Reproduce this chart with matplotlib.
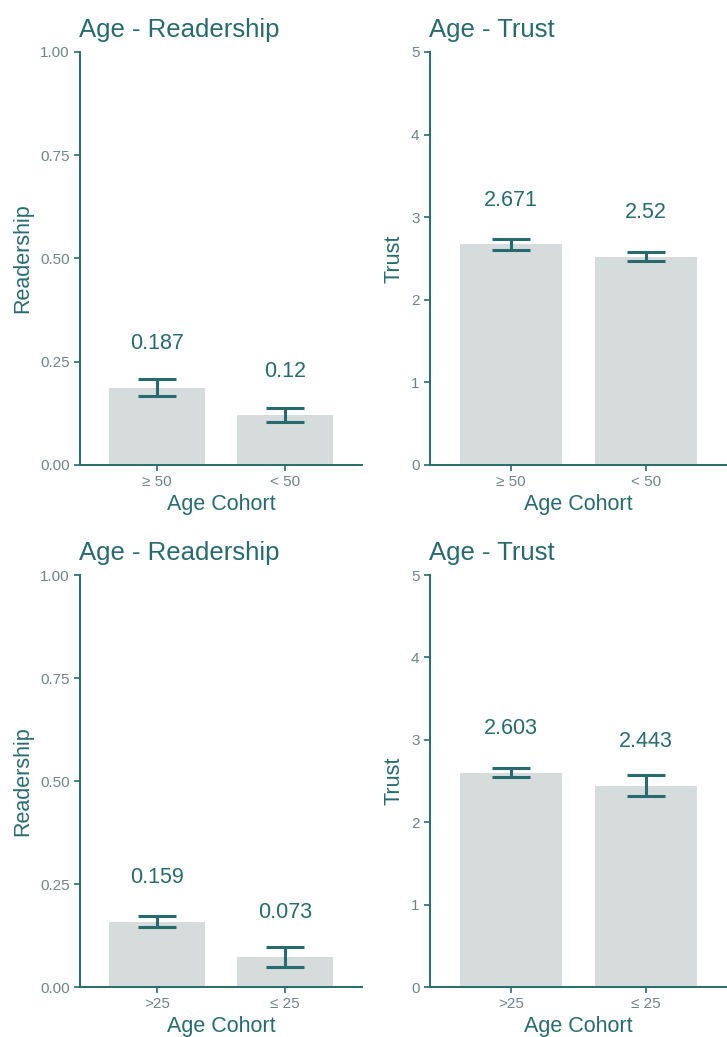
import matplotlib.pyplot as plt

plt.rcParams["font.family"] = ["Liberation Sans", "DejaVu Sans"]

TEAL = "#276b6e"
TICK_GREY = "#6d8486"
BAR_GREY = "#d6dbdc"

# ---------------------------------------------------------------------------
# Data
# ---------------------------------------------------------------------------
cohorts_50 = ["\u2265 50", "< 50"]
cohorts_25 = [">25", "\u2264 25"]

read_50 = [0.187, 0.12]
read_50_err = [0.020, 0.017]
trust_50 = [2.671, 2.52]
trust_50_err = [0.07, 0.055]

read_25 = [0.159, 0.073]
read_25_err = [0.013, 0.024]
trust_25 = [2.603, 2.443]
trust_25_err = [0.055, 0.125]

readership_ticks = [0.0, 0.25, 0.5, 0.75, 1.0]
readership_ticklabels = ["0.00", "0.25", "0.50", "0.75", "1.00"]
trust_ticks = [0, 1, 2, 3, 4, 5]
trust_ticklabels = ["0", "1", "2", "3", "4", "5"]


def draw_panel(ax, labels, means, errs, ymax, ticks, ticklabels, ylabel, title):
    xs = list(range(1, len(means) + 1))
    ax.bar(xs, means, width=0.75, color=BAR_GREY, zorder=1)
    ax.errorbar(xs, means, yerr=errs, fmt="none", ecolor=TEAL,
                elinewidth=2.2, capsize=14, capthick=2.2, zorder=2)
    for x, m in zip(xs, means):
        ax.text(x, m + 0.107 * ymax, f"{m:g}", ha="center", va="center",
                fontsize=15.5, color=TEAL)

    ax.set_xlim(0.4, 2.6)
    ax.set_ylim(0, ymax)
    ax.set_xticks(xs)
    ax.set_xticklabels(labels)
    ax.set_yticks(ticks)
    ax.set_yticklabels(ticklabels)
    ax.tick_params(axis="both", colors=TEAL, labelcolor=TICK_GREY,
                   labelsize=11, length=4, width=1.2)

    for side in ("top", "right"):
        ax.spines[side].set_visible(False)
    for side in ("left", "bottom"):
        ax.spines[side].set_color(TEAL)
        ax.spines[side].set_linewidth(1.4)

    ax.set_xlabel("Age Cohort", fontsize=15.5, color=TEAL, labelpad=3)
    ax.set_ylabel(ylabel, fontsize=15.5, color=TEAL, labelpad=5)
    ax.set_title(title, fontsize=18.5, color=TEAL, loc="left", pad=11, x=-0.005)


fig = plt.figure(figsize=(7.27, 10.37), dpi=100)

top_b, top_h = 0.5516, 0.3983
bot_b, bot_h = 0.0482, 0.3973

ax1 = fig.add_axes([0.110, top_b, 0.388, top_h])
ax2 = fig.add_axes([0.5915, top_b, 0.4085, top_h])
ax3 = fig.add_axes([0.110, bot_b, 0.388, bot_h])
ax4 = fig.add_axes([0.5915, bot_b, 0.4085, bot_h])

draw_panel(ax1, cohorts_50, read_50, read_50_err, 1.0,
           readership_ticks, readership_ticklabels, "Readership", "Age - Readership")
draw_panel(ax2, cohorts_50, trust_50, trust_50_err, 5.0,
           trust_ticks, trust_ticklabels, "Trust", "Age - Trust")
draw_panel(ax3, cohorts_25, read_25, read_25_err, 1.0,
           readership_ticks, readership_ticklabels, "Readership", "Age - Readership")
draw_panel(ax4, cohorts_25, trust_25, trust_25_err, 5.0,
           trust_ticks, trust_ticklabels, "Trust", "Age - Trust")

fig.savefig("out.png", dpi=100)
